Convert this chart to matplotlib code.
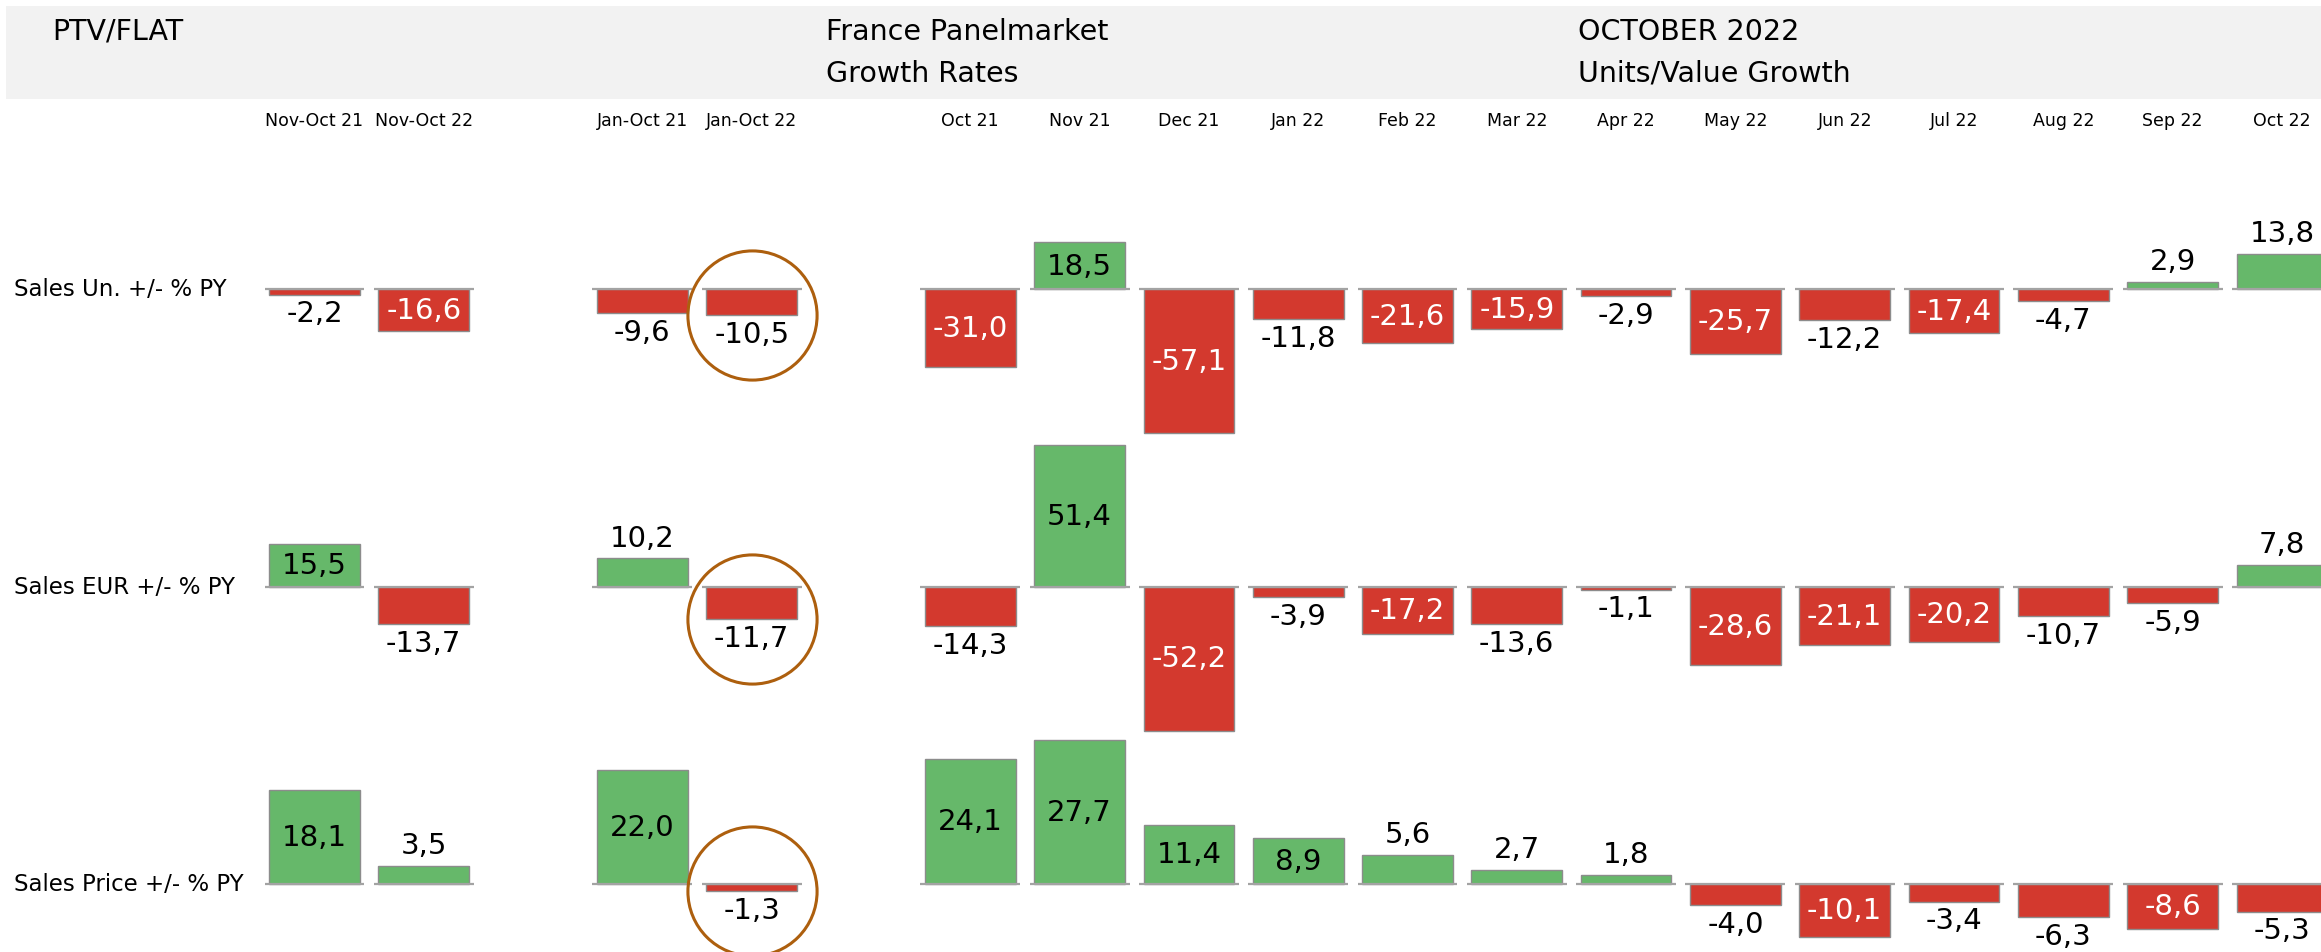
import matplotlib
matplotlib.use("Agg")
import matplotlib.pyplot as plt
import matplotlib.transforms as mtransforms
from matplotlib.patches import Rectangle

plt.rcParams['font.family'] = ['DejaVu Sans']

# ---------------- data ----------------
group_sizes = [2, 2, 13]
categories = ["Nov-Oct 21", "Nov-Oct 22",
              "Jan-Oct 21", "Jan-Oct 22",
              "Oct 21", "Nov 21", "Dec 21", "Jan 22", "Feb 22", "Mar 22", "Apr 22",
              "May 22", "Jun 22", "Jul 22", "Aug 22", "Sep 22", "Oct 22"]
row_labels = ["Sales Un. +/- % PY", "Sales EUR +/- % PY", "Sales Price +/- % PY"]
sales_units = [-2.2, -16.6, -9.6, -10.5, -31.0, 18.5, -57.1, -11.8, -21.6, -15.9, -2.9,
               -25.7, -12.2, -17.4, -4.7, 2.9, 13.8]
sales_eur = [15.5, -13.7, 10.2, -11.7, -14.3, 51.4, -52.2, -3.9, -17.2, -13.6, -1.1,
             -28.6, -21.1, -20.2, -10.7, -5.9, 7.8]
sales_price = [18.1, 3.5, 22.0, -1.3, 24.1, 27.7, 11.4, 8.9, 5.6, 2.7, 1.8,
               -4.0, -10.1, -3.4, -6.3, -8.6, -5.3]
highlight_category = "Jan-Oct 22"
header_left = "PTV/FLAT"
header_mid = ["France Panelmarket", "Growth Rates"]
header_right = ["OCTOBER 2022", "Units/Value Growth"]

rows = [sales_units, sales_eur, sales_price]

# ---------------- layout ----------------
W, H = 2321, 953
DPI = 100
fig = plt.figure(figsize=(W / DPI, H / DPI), dpi=DPI)

def fx(px):
    return px / W

def fy(py):
    return 1 - py / H

GREEN = "#66b86a"
RED = "#d3392e"
EDGE = "#8c8c8c"
BASE = "#a3a3a3"
BROWN = "#ad5f0e"

# positions with one empty slot between groups
positions = []
p = 0
for g in group_sizes:
    positions.extend(range(p, p + g))
    p += g + 1

x0_px, pitch_px = 314.5, 109.3
xlim = (-x0_px / pitch_px, (W - x0_px) / pitch_px)

baselines_px = [290, 587.5, 885]
half_px = 150
max_bar_px = 144
inside_thresh_px = 39.8

# header band
fig.patches.append(Rectangle((fx(6), fy(100)), 1 - fx(6), (100 - 7) / H,
                             transform=fig.transFigure, facecolor="#f2f2f2",
                             edgecolor="none", zorder=0))
hfs = 20.5
fig.text(fx(52), fy(32), header_left, fontsize=hfs, va="center", ha="left")
fig.text(fx(826), fy(32), header_mid[0], fontsize=hfs, va="center", ha="left")
fig.text(fx(826), fy(74), header_mid[1], fontsize=hfs, va="center", ha="left")
fig.text(fx(1578), fy(32), header_right[0], fontsize=hfs, va="center", ha="left")
fig.text(fx(1578), fy(74), header_right[1], fontsize=hfs, va="center", ha="left")

axes = []
for r, vals in enumerate(rows):
    b = baselines_px[r]
    ax = fig.add_axes([0, fy(b + half_px), 1, 2 * half_px / H])
    ax.set_facecolor("none")
    ax.axis("off")
    vmax = max(abs(v) for v in vals)
    s = max_bar_px / vmax  # px per unit
    ax.set_xlim(*xlim)
    ax.set_ylim(-half_px / s, half_px / s)
    colors = [GREEN if v >= 0 else RED for v in vals]
    ax.bar(positions, vals, width=0.83, color=colors, edgecolor=EDGE,
           linewidth=1.0, zorder=2, clip_on=False)
    ax.hlines([0] * len(positions), [q - 0.457 for q in positions],
              [q + 0.457 for q in positions], color=BASE, linewidth=1.6,
              zorder=3, clip_on=False)
    for q, v in zip(positions, vals):
        txt = f"{v:.1f}".replace(".", ",")
        bar_px = abs(v) * s
        if bar_px >= inside_thresh_px:
            ax.annotate(txt, (q, v / 2), ha="center", va="center", fontsize=21,
                        color="white" if v < 0 else "black", zorder=4,
                        annotation_clip=False)
        else:
            off = -13.5 if v < 0 else 15
            ax.annotate(txt, (q, v), xytext=(0, off), textcoords="offset points",
                        ha="center", va="center", fontsize=21, color="black",
                        zorder=4, annotation_clip=False)
    # highlight circle
    hi = categories.index(highlight_category)
    ax.plot([positions[hi]], [vals[hi]], marker="o", markersize=93,
            markerfacecolor="none", markeredgecolor=BROWN, markeredgewidth=2.2,
            linestyle="none", clip_on=False, zorder=5)
    fig.text(fx(14), fy(b), row_labels[r], fontsize=16.5, va="center", ha="left")
    axes.append(ax)

# column headers
trans = mtransforms.blended_transform_factory(axes[0].transData, fig.transFigure)
for q, c in zip(positions, categories):
    fig.text(q, fy(121), c, transform=trans, fontsize=12.5, ha="center", va="center")

fig.savefig("out.png", dpi=DPI)
